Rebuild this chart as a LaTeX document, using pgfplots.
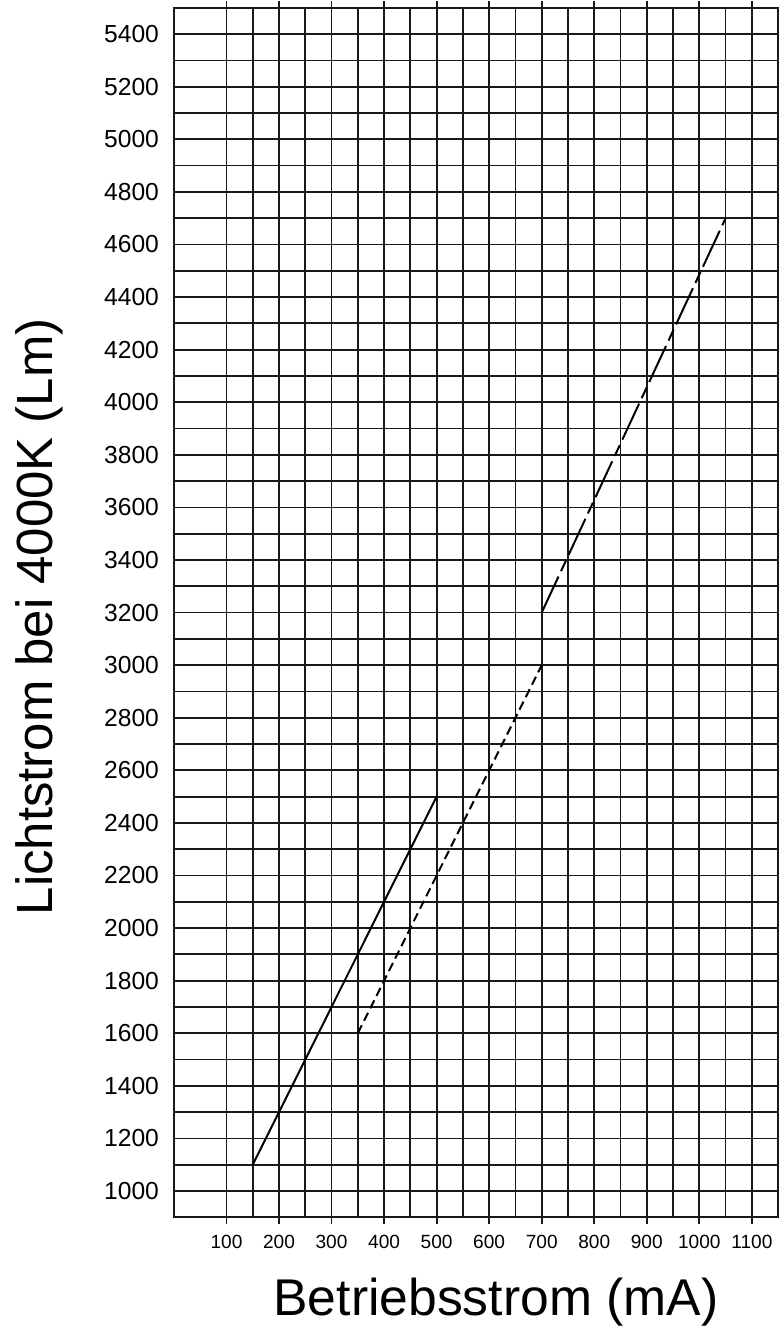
\documentclass[border=0pt]{standalone}
\usepackage{fontspec}
\setmainfont{Liberation Sans}
\usepackage{pgfplots}
\pgfplotsset{compat=1.18}

\begin{document}
\begin{tikzpicture}
\begin{axis}[
    name=ax,
    scale only axis,
    width=304pt, height=608.5pt,
    xmin=0, xmax=1150,
    ymin=900, ymax=5500,
    xtick={100,200,...,1100},
    ytick={1000,1200,...,5400},
    minor x tick num=1,
    minor y tick num=1,
    grid=both,
    grid style={line width=0.9pt, black!90},
    minor grid style={line width=0.9pt, black!90},
    axis line style={line width=0.9pt, black!90},
    major tick length=3.5pt,
    x tick style={line width=0.9pt, black!90},
    xtick align=outside,
    ytick style={draw=none},
    minor tick style={draw=none},
    /pgf/number format/assume math mode=true,
    /pgf/number format/1000 sep={},
    xticklabel style={font=\fontsize{9.6}{11}\selectfont, yshift=-2pt},
    yticklabel style={font=\fontsize{12.4}{14}\selectfont, xshift=-4pt},
    xlabel={Betriebsstrom (mA)},
    ylabel={Lichtstrom bei 4000K (Lm)},
    xlabel style={font=\fontsize{26}{30}\selectfont, at={(axis description cs:0.533,0)}, anchor=base, yshift=-49.5pt},
    ylabel style={font=\fontsize{25.6}{30}\selectfont, at={(axis description cs:0,0.4965)}, anchor=center, yshift=67.5pt},
]
\coordinate (sw) at (rel axis cs:0,0);
\coordinate (ne) at (rel axis cs:1,1);

% solid
\addplot[black, line width=1pt] coordinates {(150,1100) (500,2500)};
% short dashes
\addplot[black, line width=1pt, dash pattern=on 4.5pt off 2.5pt] coordinates {(350,1600) (700,3000)};
% long dashes
\addplot[black, line width=1pt, dash pattern=on 20pt off 3pt on 6pt off 3pt] coordinates {(700,3200) (1050,4700)};
\end{axis}
\path ([shift={(-87.5pt,-55pt)}]sw) rectangle ([shift={(2.5pt,3pt)}]ne);
\end{tikzpicture}
\end{document}
